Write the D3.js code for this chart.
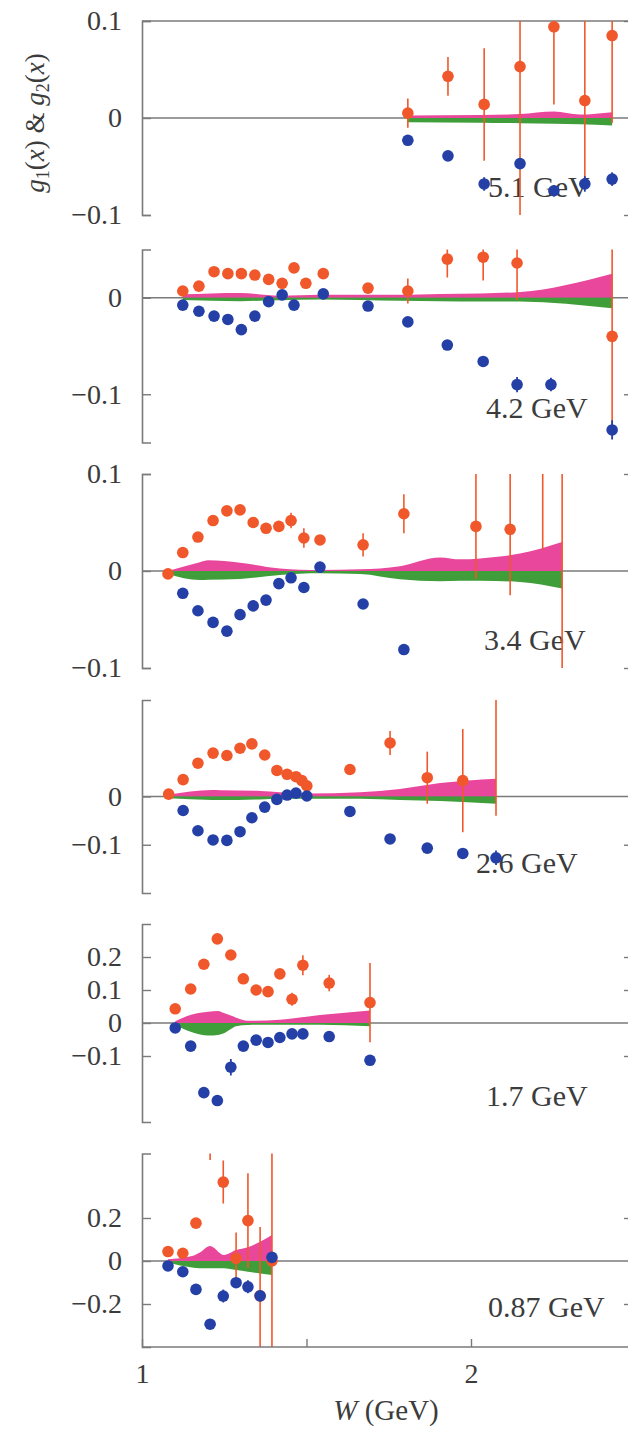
<!DOCTYPE html>
<html>
<head>
<meta charset="utf-8">
<script src="https://cdn.jsdelivr.net/npm/d3@7"></script>
<style>
  html, body { margin: 0; padding: 0; background: #ffffff; }
</style>
</head>
<body>
<script>
// [W, value, error]  orange = g1, blue = g2
const g1_51 = [[1.808,0.005,0.015],[1.930,0.043,0.02],[2.040,0.014,0.058],[2.149,0.053,0.155],[2.252,0.094,0.08],[2.346,0.018,0.088],[2.429,0.085,0.09]];
const g2_51 = [[1.808,-0.023,0],[1.930,-0.039,0],[2.040,-0.068,0.007],[2.149,-0.047,0],[2.252,-0.075,0.006],[2.346,-0.068,0.008],[2.429,-0.063,0.007]];

const g1_42 = [[1.124,0.007,0],[1.173,0.012,0],[1.219,0.027,0],[1.261,0.025,0],[1.302,0.025,0],[1.343,0.0235,0],[1.385,0.019,0],[1.426,0.015,0],[1.462,0.031,0],[1.498,0.015,0],[1.551,0.025,0],[1.687,0.010,0],[1.808,0.007,0.013],[1.928,0.040,0.019],[2.037,0.042,0.024],[2.140,0.036,0.038],[2.429,-0.040,0.1]];
const g2_42 = [[1.124,-0.0076,0],[1.173,-0.014,0],[1.219,-0.019,0],[1.261,-0.0225,0],[1.302,-0.033,0],[1.343,-0.019,0],[1.385,-0.004,0],[1.426,0.003,0],[1.462,-0.0076,0],[1.551,0.004,0],[1.687,-0.0086,0],[1.808,-0.025,0],[1.928,-0.049,0.004],[2.037,-0.066,0.004],[2.140,-0.090,0.008],[2.243,-0.090,0.007],[2.429,-0.137,0.01]];

const g1_34 = [[1.079,-0.003,0],[1.124,0.019,0],[1.170,0.035,0],[1.216,0.052,0],[1.258,0.062,0],[1.298,0.063,0],[1.338,0.050,0],[1.377,0.044,0],[1.416,0.046,0],[1.453,0.052,0.008],[1.492,0.034,0.01],[1.541,0.032,0],[1.672,0.027,0.012],[1.796,0.059,0.02],[2.015,0.046,0.054],[2.119,0.043,0.068],[2.218,0.13,0.108],[2.277,0.2,0.32]];
const g2_34 = [[1.124,-0.023,0],[1.170,-0.041,0],[1.216,-0.053,0],[1.258,-0.062,0],[1.298,-0.045,0],[1.338,-0.036,0],[1.377,-0.030,0],[1.416,-0.013,0],[1.453,-0.007,0],[1.492,-0.017,0],[1.541,0.004,0],[1.672,-0.034,0],[1.796,-0.081,0]];

const g1_26 = [[1.081,0.005,0],[1.125,0.035,0],[1.170,0.069,0],[1.216,0.090,0],[1.258,0.085,0],[1.298,0.100,0],[1.334,0.109,0],[1.373,0.086,0],[1.410,0.054,0],[1.441,0.046,0],[1.468,0.041,0.01],[1.486,0.033,0.01],[1.501,0.022,0],[1.632,0.056,0.01],[1.754,0.111,0.025],[1.867,0.039,0.054],[1.975,0.033,0.107],[2.076,0.25,0.29]];
const g2_26 = [[1.125,-0.029,0],[1.170,-0.071,0],[1.216,-0.090,0],[1.258,-0.091,0],[1.298,-0.073,0],[1.334,-0.044,0],[1.373,-0.022,0],[1.410,-0.006,0],[1.441,0.003,0],[1.468,0.007,0],[1.501,0.001,0],[1.632,-0.031,0],[1.754,-0.088,0],[1.867,-0.107,0],[1.975,-0.118,0],[2.076,-0.127,0.015]];

const g1_17 = [[1.101,0.043,0],[1.148,0.103,0],[1.188,0.178,0],[1.229,0.255,0],[1.270,0.206,0],[1.308,0.134,0],[1.347,0.100,0],[1.383,0.095,0],[1.419,0.149,0],[1.456,0.072,0.02],[1.489,0.175,0.03],[1.569,0.121,0.025],[1.693,0.062,0.12]];
const g2_17 = [[1.101,-0.015,0],[1.148,-0.070,0],[1.188,-0.211,0],[1.229,-0.235,0],[1.270,-0.134,0.025],[1.308,-0.070,0],[1.347,-0.052,0],[1.383,-0.059,0],[1.419,-0.044,0],[1.456,-0.033,0],[1.489,-0.033,0],[1.569,-0.041,0],[1.693,-0.113,0]];

const g1_087 = [[1.079,0.044,0],[1.124,0.036,0],[1.164,0.176,0],[1.207,0.62,0.15],[1.247,0.367,0.1],[1.286,0.012,0.12],[1.322,0.188,0.22],[1.359,-0.162,0.32],[1.395,0.0,0.6]];
const g2_087 = [[1.079,-0.023,0],[1.124,-0.050,0],[1.164,-0.132,0],[1.207,-0.294,0],[1.247,-0.163,0.03],[1.286,-0.101,0],[1.322,-0.120,0.03],[1.359,-0.162,0],[1.395,0.017,0]];

// model bands [W, upper (pink), lower (green)]
const band_51 = [[1.808,0.0026,-0.0043],[2.028,0.003,-0.005],[2.149,0.004,-0.0054],[2.252,0.0067,-0.006],[2.33,0.0036,-0.0065],[2.429,0.006,-0.0078]];
const band_42 = [[1.124,0.0035,-0.0024],[1.298,0.005,-0.0035],[1.419,0.002,-0.0025],[1.541,0.003,-0.0017],[1.784,0.003,-0.003],[1.906,0.004,-0.0035],[2.028,0.0045,-0.0038],[2.149,0.006,-0.004],[2.429,0.025,-0.011]];
const band_34 = [[1.079,0,-0.003],[1.176,0.009,-0.0093],[1.201,0.011,-0.009],[1.298,0.0086,-0.0082],[1.419,0.0027,-0.004],[1.541,0.001,-0.0024],[1.663,0.0017,-0.003],[1.784,0.005,-0.0086],[1.906,0.014,-0.0106],[1.967,0.012,-0.010],[2.028,0.013,-0.010],[2.149,0.018,-0.0113],[2.277,0.030,-0.018]];
const band_26 = [[1.081,0.0034,-0.0034],[1.213,0.0136,-0.007],[1.237,0.013,-0.0075],[1.359,0.0116,-0.006],[1.419,0.009,-0.0048],[1.505,0.006,-0.0045],[1.663,0.0088,-0.0048],[1.784,0.0156,-0.007],[1.906,0.028,-0.0095],[2.076,0.037,-0.015]];
const band_17 = [[1.101,0.005,-0.005],[1.152,0.026,-0.028],[1.201,0.034,-0.038],[1.231,0.036,-0.036],[1.249,0.030,-0.031],[1.274,0.021,-0.016],[1.286,0.016,-0.010],[1.322,0.007,-0.006],[1.419,0.010,-0.005],[1.541,0.024,-0.005],[1.693,0.038,-0.010]];
const band_087 = [[1.079,0.008,-0.008],[1.152,0.023,-0.03],[1.176,0.04,-0.034],[1.207,0.070,-0.034],[1.249,0.028,-0.034],[1.286,0.051,-0.042],[1.322,0.064,-0.050],[1.359,0.090,-0.058],[1.395,0.121,-0.065]];

const energies = ['5.1 GeV', '4.2 GeV', '3.4 GeV', '2.6 GeV', '1.7 GeV', '0.87 GeV'];
const yDomains = [[-0.1, 0.1], [-0.15, 0.05], [-0.1, 0.1], [-0.2, 0.2], [-0.3, 0.3], [-0.4, 0.5]];
const yTicks = [[-0.1, 0, 0.1], [-0.1, 0], [-0.1, 0, 0.1], [-0.1, 0], [-0.1, 0, 0.1, 0.2], [-0.2, 0, 0.2]];
const xTicks = [1, 1.5, 2, 2.5];
const xTickLabels = ['1', '2'];

const g1Sets = [g1_51, g1_42, g1_34, g1_26, g1_17, g1_087];
const g2Sets = [g2_51, g2_42, g2_34, g2_26, g2_17, g2_087];
const bandSets = [band_51, band_42, band_34, band_26, band_17, band_087];

// pixel layout of each panel (top / bottom of y range) and label spot
const panelBox = [
  { top: 21, bottom: 215, lx: 488, ly: 197 },
  { top: 249.5, bottom: 442.5, lx: 486, ly: 418 },
  { top: 474, bottom: 668, lx: 484, ly: 650 },
  { top: 700, bottom: 893, lx: 476, ly: 873 },
  { top: 924, bottom: 1122, lx: 486, ly: 1106 },
  { top: 1153.5, bottom: 1347, lx: 488, ly: 1317 }
];

const W = 628, H = 1431;
const left = 142, rightEdge = 633;
const serif = '"Liberation Serif", "DejaVu Serif", serif';
const axisColor = '#7a7a7a';
const textColor = '#3c3c3c';
const orange = '#f0582b', blue = '#2440a6', pink = '#e8479c', green = '#3f9e3a';

const svg = d3.select('body').append('svg')
  .attr('width', W)
  .attr('height', H)
  .style('background', '#fff');

const x = d3.scaleLinear().domain([1, 2]).range([left, 471]);
const fmt = v => v === 0 ? '0' : (v < 0 ? '\u2212' : '') + Math.abs(v);

panelBox.forEach((box, i) => {
  const y = d3.scaleLinear().domain(yDomains[i]).range([box.bottom, box.top]);
  const g = svg.append('g');

  const clipId = 'clip' + i;
  svg.append('clipPath').attr('id', clipId)
    .append('rect')
    .attr('x', left).attr('y', box.top)
    .attr('width', rightEdge - left).attr('height', box.bottom - box.top);

  // energy label (under the points)
  g.append('text')
    .attr('x', box.lx).attr('y', box.ly)
    .attr('font-family', serif).attr('font-size', 30)
    .attr('fill', textColor)
    .text(energies[i]);

  // zero line
  g.append('line')
    .attr('x1', left).attr('x2', W)
    .attr('y1', y(0)).attr('y2', y(0))
    .attr('stroke', axisColor).attr('stroke-width', 1.6);

  // left axis
  const yAxis = d3.axisLeft(y).tickValues(yTicks[i]).tickSize(-9).tickPadding(20).tickFormat(fmt);
  const ax = g.append('g').attr('transform', `translate(${left},0)`).call(yAxis);
  ax.select('.domain').attr('stroke', axisColor).attr('stroke-width', 1.6);
  ax.selectAll('.tick line').attr('stroke', axisColor).attr('stroke-width', 1.4);
  ax.selectAll('.tick text')
    .attr('font-family', serif).attr('font-size', 28).attr('fill', textColor);

  // right axis (cut off by the picture edge, only the ticks show)
  const yAxisR = d3.axisRight(y).tickValues(yTicks[i].filter(t => t !== 0)).tickSize(-9).tickFormat('');
  const axR = g.append('g').attr('transform', `translate(${rightEdge},0)`).call(yAxisR);
  axR.select('.domain').remove();
  axR.selectAll('.tick line').attr('stroke', axisColor).attr('stroke-width', 1.4);

  if (i === 0) {
    g.append('line')
      .attr('x1', left).attr('x2', W)
      .attr('y1', y(0.1)).attr('y2', y(0.1))
      .attr('stroke', axisColor).attr('stroke-width', 1.6);
  }

  const plot = g.append('g').attr('clip-path', `url(#${clipId})`);

  // bands
  const band = bandSets[i];
  plot.append('path').datum(band)
    .attr('fill', pink)
    .attr('d', d3.area().x(d => x(d[0])).y0(y(0)).y1(d => y(d[1])).curve(d3.curveMonotoneX));
  plot.append('path').datum(band)
    .attr('fill', green)
    .attr('d', d3.area().x(d => x(d[0])).y0(y(0)).y1(d => y(d[2])).curve(d3.curveMonotoneX));

  // error bars
  plot.selectAll('line.e1').data(g1Sets[i].filter(d => d[2] > 0)).join('line')
    .attr('x1', d => x(d[0])).attr('x2', d => x(d[0]))
    .attr('y1', d => y(d[1] - d[2])).attr('y2', d => y(d[1] + d[2]))
    .attr('stroke', orange).attr('stroke-width', 1.6);
  plot.selectAll('line.e2').data(g2Sets[i].filter(d => d[2] > 0)).join('line')
    .attr('x1', d => x(d[0])).attr('x2', d => x(d[0]))
    .attr('y1', d => y(d[1] - d[2])).attr('y2', d => y(d[1] + d[2]))
    .attr('stroke', blue).attr('stroke-width', 1.8);

  // points
  plot.selectAll('circle.p1').data(g1Sets[i]).join('circle')
    .attr('cx', d => x(d[0])).attr('cy', d => y(d[1])).attr('r', 5.8)
    .attr('fill', orange);
  plot.selectAll('circle.p2').data(g2Sets[i]).join('circle')
    .attr('cx', d => x(d[0])).attr('cy', d => y(d[1])).attr('r', 5.8)
    .attr('fill', blue);

  // bottom axis on last panel
  if (i === panelBox.length - 1) {
    const xAxis = d3.axisBottom(x).tickValues(xTicks).tickSize(-8).tickPadding(16)
      .tickFormat(d => xTickLabels[[1, 2].indexOf(d)] || '');
    const axB = g.append('g').attr('transform', `translate(0,${box.bottom})`).call(xAxis);
    axB.select('.domain').remove();
    axB.selectAll('.tick line').attr('stroke', axisColor).attr('stroke-width', 1.4);
    axB.selectAll('.tick text')
      .attr('font-family', serif).attr('font-size', 28).attr('fill', textColor);
    g.append('line')
      .attr('x1', left).attr('x2', W)
      .attr('y1', box.bottom).attr('y2', box.bottom)
      .attr('stroke', axisColor).attr('stroke-width', 1.6);
  }
});

// axis titles
const yTitle = svg.append('text')
  .attr('transform', 'translate(44,123) rotate(-90)')
  .attr('text-anchor', 'middle')
  .attr('font-family', serif).attr('font-size', 27).attr('fill', textColor);
yTitle.append('tspan').attr('font-style', 'italic').text('g');
yTitle.append('tspan').attr('font-size', 18).attr('dy', 5).text('1');
yTitle.append('tspan').attr('dy', -5).text('(');
yTitle.append('tspan').attr('font-style', 'italic').text('x');
yTitle.append('tspan').text(') & ');
yTitle.append('tspan').attr('font-style', 'italic').text('g');
yTitle.append('tspan').attr('font-size', 18).attr('dy', 5).text('2');
yTitle.append('tspan').attr('dy', -5).text('(');
yTitle.append('tspan').attr('font-style', 'italic').text('x');
yTitle.append('tspan').text(')');

const xTitle = svg.append('text')
  .attr('x', 386).attr('y', 1420)
  .attr('text-anchor', 'middle')
  .attr('font-family', serif).attr('font-size', 29).attr('fill', textColor);
xTitle.append('tspan').attr('font-style', 'italic').text('W');
xTitle.append('tspan').text(' (GeV)');
</script>
</body>
</html>
